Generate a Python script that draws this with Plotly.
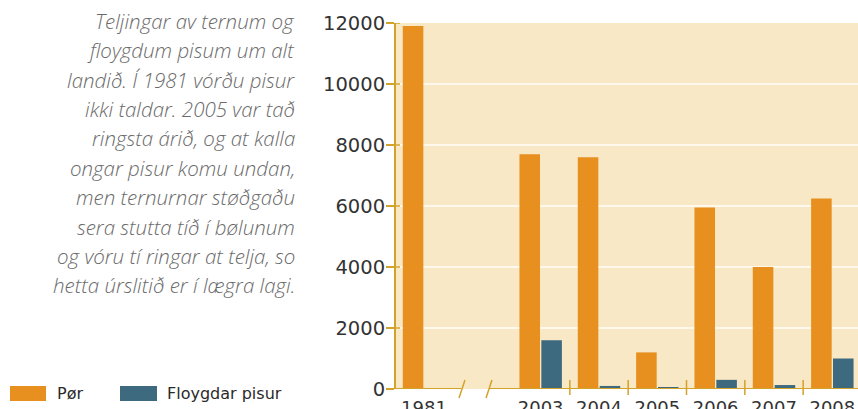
import plotly.graph_objects as go

# ---- data ----
years = ["1981", "2003", "2004", "2005", "2006", "2007", "2008"]
slots = ["1981", "brot", "2003", "2004", "2005", "2006", "2007", "2008"]  # "brot" = axis break placeholder
por = [11900, 7700, 7600, 1200, 5950, 4000, 6250]
pisur = [None, 1600, 100, 40, 300, 130, 1000]
y_ticks = [0, 2000, 4000, 6000, 8000, 10000, 12000]
y_ticktext = ["0", "2000", "4000", "6000", "8000", "10000", "12000"]
legend_labels = ["Pør", "Floygdar pisur"]
caption_lines = [
    "Teljingar av ternum og",
    "floygdum pisum um alt",
    "landið. Í 1981 vórðu pisur",
    "ikki taldar. 2005 var tað",
    "ringsta árið, og at kalla",
    "ongar pisur komu undan,",
    "men ternurnar støðgaðu",
    "sera stutta tíð í bølunum",
    "og vóru tí ringar at telja, so",
    "hetta úrslitið er í lægra lagi.",
]

# ---- style ----
W, H = 858, 409
L, R, T, B = 396, 0, 23, 20
ORANGE = "#E8901F"
BLUE = "#3E6A80"
GOLD = "#D3A22A"
BG = "#F8E8C5"
pw, ph = W - L - R, H - T - B


def px_x(px):
    return (px - L) / pw


def px_y(py):
    return (H - B - py) / ph


fig = go.Figure()
fig.add_trace(go.Bar(x=years, y=por, name=legend_labels[0], marker_color=ORANGE,
                     marker_line_width=0, showlegend=False))
fig.add_trace(go.Bar(x=years, y=pisur, name=legend_labels[1], marker_color=BLUE,
                     marker_line_width=0, showlegend=False))

shapes = []
# x axis line with break
shapes.append(dict(type="line", xref="paper", yref="y", x0=0, x1=px_x(461), y0=0, y1=0,
                   line=dict(color=GOLD, width=2)))
shapes.append(dict(type="line", xref="paper", yref="y", x0=px_x(489), x1=1, y0=0, y1=0,
                   line=dict(color=GOLD, width=2)))
# break slashes
for xa, xb in [(459, 465), (486, 492)]:
    shapes.append(dict(type="line", xref="paper", yref="paper", x0=px_x(xa), x1=px_x(xb),
                       y0=px_y(398), y1=px_y(380), line=dict(color=GOLD, width=1.5)))
# boundary ticks between categories
for i in range(2, len(slots) - 1):
    shapes.append(dict(type="line", xref="x", yref="paper", x0=i + 0.5, x1=i + 0.5,
                       y0=px_y(395), y1=px_y(380), line=dict(color=GOLD, width=1.5)))
# inner part of y ticks (crossing ticks)
for v in y_ticks:
    shapes.append(dict(type="line", xref="paper", yref="y", x0=0, x1=4 / pw, y0=v, y1=v,
                       line=dict(color=GOLD, width=1.5)))
# legend swatches
shapes.append(dict(type="rect", xref="paper", yref="paper", x0=px_x(10), x1=px_x(46),
                   y0=px_y(401), y1=px_y(386), fillcolor=ORANGE, line_width=0))
shapes.append(dict(type="rect", xref="paper", yref="paper", x0=px_x(120), x1=px_x(157),
                   y0=px_y(401), y1=px_y(386), fillcolor=BLUE, line_width=0))

annotations = []
for k, line in enumerate(caption_lines):
    baseline = 27.3 + 29.4 * k
    annotations.append(dict(text=line, xref="paper", yref="paper", x=px_x(297),
                            y=px_y(baseline - 6.5), xanchor="right", yanchor="middle",
                            showarrow=False,
                            font=dict(family="Open Sans", size=20.5, color="#6A6A6A",
                                      style="italic", weight=300)))
for lab, xp in zip(legend_labels, [55, 165]):
    annotations.append(dict(text=lab, xref="paper", yref="paper", x=px_x(xp),
                            y=px_y(394), xanchor="left", yanchor="middle", showarrow=False,
                            font=dict(family="DejaVu Sans", size=16, color="#2A2A2A")))

fig.update_layout(
    width=W, height=H,
    margin=dict(l=L, r=R, t=T, b=B, autoexpand=False),
    paper_bgcolor="white", plot_bgcolor=BG,
    barmode="group", bargap=0.25, bargroupgap=0.06,
    showlegend=False,
    shapes=shapes, annotations=annotations,
    font=dict(family="DejaVu Sans", size=18, color="#333333"),
)
fig.update_xaxes(type="category", categoryorder="array", categoryarray=slots,
                 tickvals=years, ticktext=years, range=[-0.48, 7.44],
                 showline=False, showgrid=False, zeroline=False, ticks="",
                 ticklabelstandoff=6, automargin=False,
                 tickfont=dict(family="DejaVu Sans", size=18, color="#333333"))
fig.update_yaxes(range=[0, 12000], tickvals=y_ticks, ticktext=y_ticktext,
                 showline=True, linecolor=GOLD,
                 linewidth=2, ticks="outside", ticklen=8, tickcolor=GOLD, tickwidth=1.5,
                 showgrid=True, gridcolor="#FFF8EC", gridwidth=2, zeroline=False,
                 automargin=False, ticklabelstandoff=-3,
                 tickfont=dict(family="DejaVu Sans", size=19.5, color="#333333"))

fig.write_html("out.html", config={"displayModeBar": False},
               post_script="document.body.style.margin='0';")
